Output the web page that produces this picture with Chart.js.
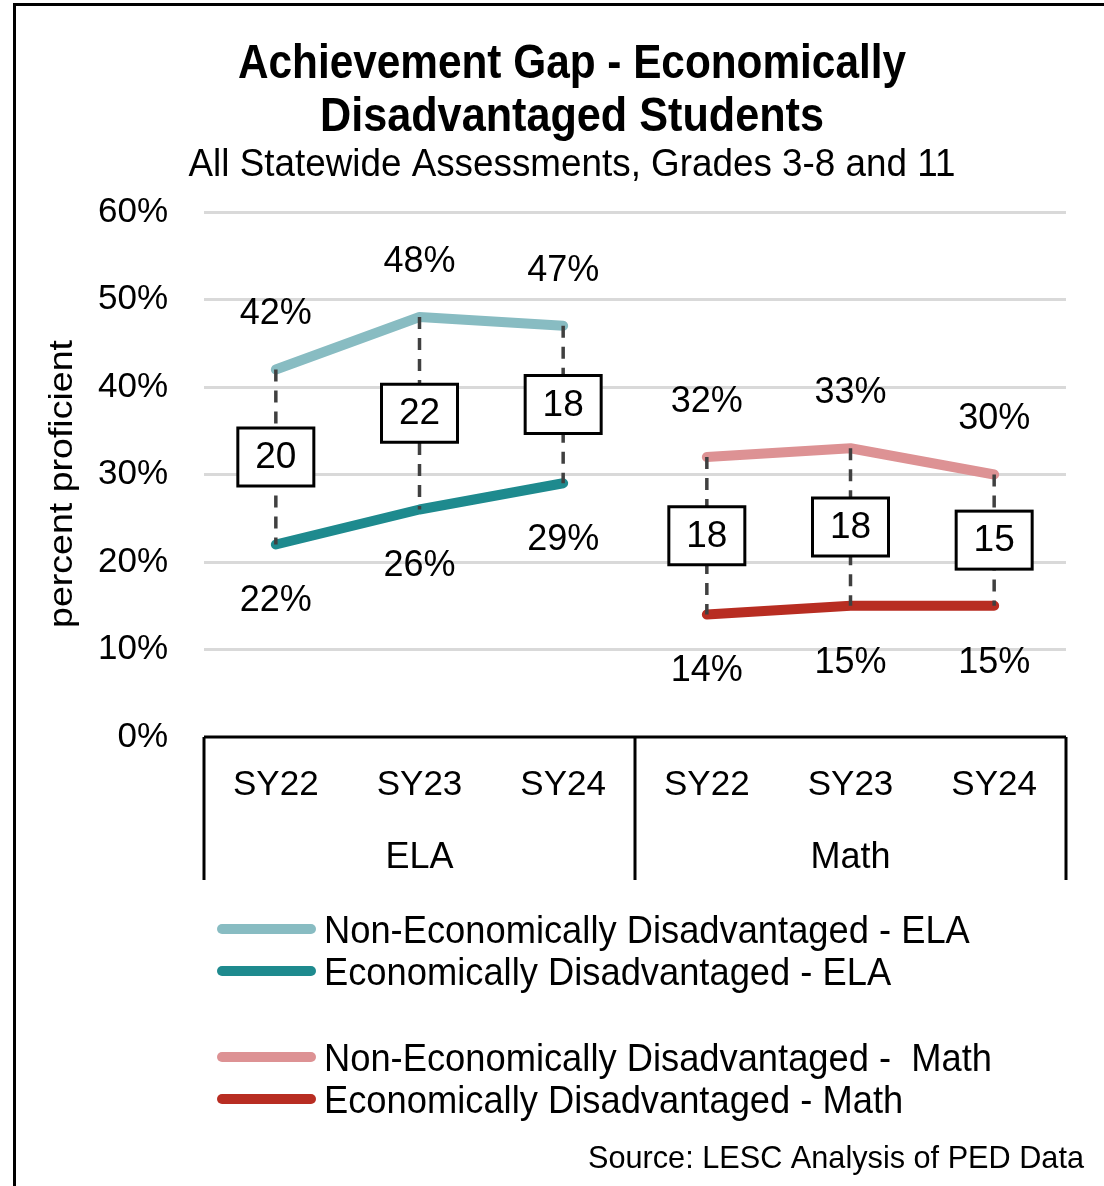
<!DOCTYPE html>
<html>
<head>
<meta charset="utf-8">
<title>Achievement Gap</title>
<script src="https://cdn.jsdelivr.net/npm/chart.js@4.4.1/dist/chart.umd.min.js"></script>
<style>
  html, body { margin: 0; padding: 0; background: #fff; }
  #wrap { width: 1104px; height: 1186px; position: relative; }
</style>
</head>
<body>
<div id="wrap"><canvas id="gapChart" width="1104" height="1186"></canvas></div>
<script>
// categories (school year within subject)
var years = ['SY22', 'SY23', 'SY24', 'SY22', 'SY23', 'SY24'];
var subjects = ['ELA', 'Math'];

// percent proficient
var nonEdEla  = [42, 48, 47, null, null, null];
var edEla     = [22, 26, 29, null, null, null];
var nonEdMath = [null, null, null, 32, 33, 30];
var edMath    = [null, null, null, 14, 15, 15];

var yTicks = [0, 10, 20, 30, 40, 50, 60];

var seriesNames = [
  'Non-Economically Disadvantaged - ELA',
  'Economically Disadvantaged - ELA',
  'Non-Economically Disadvantaged -  Math',
  'Economically Disadvantaged - Math'
];
var seriesColors = ['#88bcc2', '#1e8a8e', '#dd9294', '#b82d22'];

var FONT = '"Liberation Sans", Arial, sans-serif';
var NARROW = '"Liberation Sans Narrow", "Liberation Sans", Arial, sans-serif';

// draw text squeezed/stretched to a given width
function fitText(ctx, text, x, y, w, align){
  var m = ctx.measureText(text).width;
  var sx = w / m;
  ctx.save();
  ctx.translate(x, y);
  ctx.scale(sx, 1);
  ctx.textAlign = align;
  ctx.fillText(text, 0, 0);
  ctx.restore();
  return sx;
}

var decorations = {
  id: 'decorations',
  beforeDraw: function(chart){
    var ctx = chart.ctx;
    ctx.save();
    ctx.fillStyle = '#fff';
    ctx.fillRect(0, 0, chart.width, chart.height);

    // frame (left + top)
    ctx.strokeStyle = '#000';
    ctx.lineWidth = 3;
    ctx.beginPath();
    ctx.moveTo(14.5, chart.height);
    ctx.lineTo(14.5, 4.5);
    ctx.lineTo(chart.width, 4.5);
    ctx.stroke();

    // titles
    ctx.fillStyle = '#000';
    ctx.textBaseline = 'alphabetic';
    ctx.font = 'bold 49px ' + NARROW;
    fitText(ctx, 'Achievement Gap - Economically', 572, 78, 668, 'center');
    fitText(ctx, 'Disadvantaged Students', 572, 131, 504, 'center');
    ctx.font = '38px ' + NARROW;
    fitText(ctx, 'All Statewide Assessments, Grades 3-8 and 11', 572, 176, 767, 'center');

    // y axis title
    ctx.save();
    ctx.translate(72, 484);
    ctx.rotate(-Math.PI / 2);
    ctx.font = '34px ' + FONT;
    ctx.textBaseline = 'alphabetic';
    fitText(ctx, 'percent proficient', 0, 0, 288, 'center');
    ctx.restore();
    ctx.restore();
  },
  afterDatasetsDraw: function(chart){
    var ctx = chart.ctx;
    var xs = chart.scales.x, ys = chart.scales.y;
    var area = chart.chartArea;
    ctx.save();

    // axis line and group separators
    ctx.strokeStyle = '#000';
    ctx.lineWidth = 3;
    ctx.beginPath();
    ctx.moveTo(area.left, area.bottom);
    ctx.lineTo(area.right, area.bottom);
    var mid = (xs.getPixelForValue(2) + xs.getPixelForValue(3)) / 2;
    [area.left, mid, area.right].forEach(function(x){
      ctx.moveTo(x, area.bottom);
      ctx.lineTo(x, area.bottom + 143);
    });
    ctx.stroke();

    // x tick labels and subject labels
    ctx.fillStyle = '#000';
    ctx.textAlign = 'center';
    ctx.textBaseline = 'middle';
    ctx.font = '35px ' + FONT;
    years.forEach(function(y, i){
      ctx.fillText(y, xs.getPixelForValue(i), area.bottom + 48);
    });
    ctx.font = '36px ' + FONT;
    subjects.forEach(function(s, g){
      var cx = (xs.getPixelForValue(g * 3) + xs.getPixelForValue(g * 3 + 2)) / 2;
      ctx.fillText(s, cx, area.bottom + 121);
    });

    // gap markers: dashed connector, boxed difference, value labels
    var pairs = [[nonEdEla, edEla], [nonEdMath, edMath]];
    pairs.forEach(function(p){
      var hi = p[0], lo = p[1];
      for (var i = 0; i < years.length; i++){
        if (hi[i] == null || lo[i] == null) continue;
        var x = xs.getPixelForValue(i);
        var yHi = ys.getPixelForValue(hi[i]);
        var yLo = ys.getPixelForValue(lo[i]);
        var yMid = ys.getPixelForValue((hi[i] + lo[i]) / 2);

        ctx.setLineDash([12, 9]);
        ctx.strokeStyle = '#404040';
        ctx.lineWidth = 3.5;
        ctx.beginPath();
        ctx.moveTo(x, yHi);
        ctx.lineTo(x, yLo);
        ctx.stroke();
        ctx.setLineDash([]);

        ctx.fillStyle = '#fff';
        ctx.fillRect(x - 38, yMid - 29, 76, 58);
        ctx.strokeStyle = '#000';
        ctx.lineWidth = 3;
        ctx.strokeRect(x - 38, yMid - 29, 76, 58);

        ctx.fillStyle = '#000';
        ctx.font = '37px ' + FONT;
        ctx.fillText(String(hi[i] - lo[i]), x, yMid + 1);

        ctx.font = '36px ' + FONT;
        ctx.fillText(hi[i] + '%', x, yHi - 55);
        ctx.fillText(lo[i] + '%', x, yLo + 57);
      }
    });

    // legend
    var rows = [929, 971, 1057, 1099];
    ctx.font = '39px ' + NARROW;
    ctx.textBaseline = 'alphabetic';
    var sx = ctx.measureText(seriesNames[2]).width;
    sx = 668 / sx;
    seriesNames.forEach(function(name, i){
      ctx.strokeStyle = seriesColors[i];
      ctx.lineWidth = 10;
      ctx.lineCap = 'round';
      ctx.beginPath();
      ctx.moveTo(222, rows[i]);
      ctx.lineTo(311, rows[i]);
      ctx.stroke();
      ctx.save();
      ctx.translate(324, rows[i] + 14);
      ctx.scale(sx, 1);
      ctx.textAlign = 'left';
      ctx.fillStyle = '#000';
      ctx.fillText(name, 0, 0);
      ctx.restore();
    });

    // source note
    ctx.font = '32px ' + NARROW;
    ctx.fillStyle = '#000';
    fitText(ctx, 'Source: LESC Analysis of PED Data', 1084, 1168, 496, 'right');

    ctx.restore();
  }
};

function lineSet(label, data, color){
  return {
    label: label,
    data: data,
    borderColor: color,
    backgroundColor: color,
    borderWidth: 10,
    borderCapStyle: 'round',
    borderJoinStyle: 'round',
    pointRadius: 0,
    spanGaps: false,
    tension: 0
  };
}

new Chart(document.getElementById('gapChart'), {
  type: 'line',
  data: {
    labels: years,
    datasets: [
      lineSet(seriesNames[0], nonEdEla, seriesColors[0]),
      lineSet(seriesNames[1], edEla, seriesColors[1]),
      lineSet(seriesNames[2], nonEdMath, seriesColors[2]),
      lineSet(seriesNames[3], edMath, seriesColors[3])
    ]
  },
  options: {
    responsive: false,
    animation: false,
    devicePixelRatio: 1,
    layout: { padding: { left: 0, top: 212, right: 38, bottom: 306 } },
    plugins: {
      legend: { display: false },
      title: { display: false },
      tooltip: { enabled: false }
    },
    scales: {
      x: {
        offset: true,
        grid: { display: false, drawTicks: false },
        border: { display: false },
        ticks: { display: false },
        afterFit: function(s){ s.height = 143; }
      },
      y: {
        min: 0,
        max: 60,
        afterBuildTicks: function(s){ s.ticks = yTicks.map(function(v){ return { value: v }; }); },
        ticks: {
          padding: 36,
          color: '#000',
          font: { family: FONT, size: 35 },
          callback: function(v){ return v + '%'; }
        },
        grid: {
          color: function(c){ return c.tick && c.tick.value === 0 ? 'rgba(0,0,0,0)' : '#d9d9d9'; },
          lineWidth: 3,
          drawTicks: false
        },
        border: { display: false },
        afterFit: function(s){ s.width = 204; }
      }
    }
  },
  plugins: [decorations]
});
</script>
</body>
</html>
